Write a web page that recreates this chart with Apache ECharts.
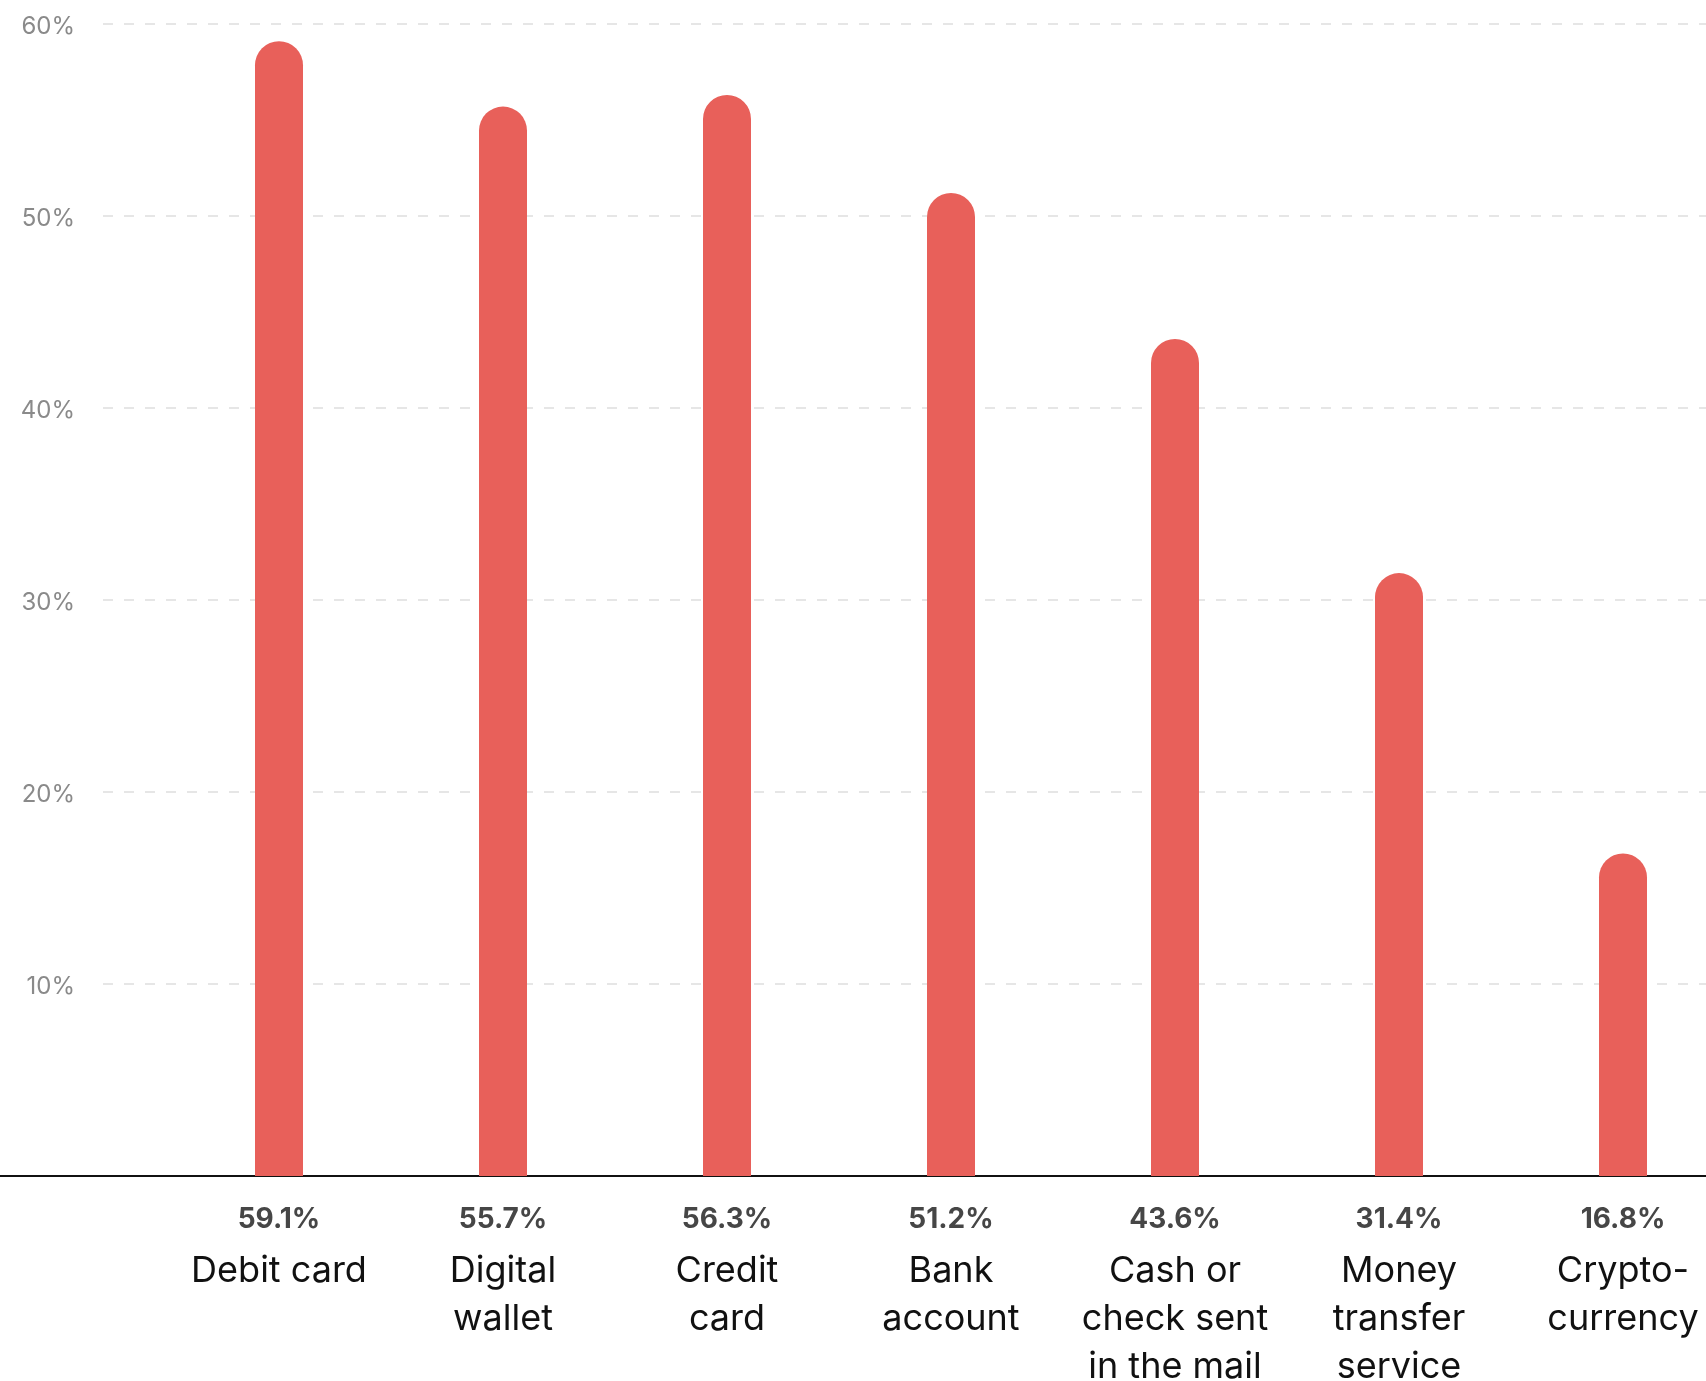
<!DOCTYPE html>
<html>
<head>
<meta charset="utf-8">
<script src="https://cdn.jsdelivr.net/npm/echarts@6/dist/echarts.min.js"></script>
<style>
  html, body { margin: 0; padding: 0; background: #fff; }
  #chart1 { width: 1706px; height: 1381px; }
</style>
</head>
<body>
<div id="chart1"></div>
<script>
/* payment methods bar chart */

var categories = ['Debit card', 'Digital\nwallet', 'Credit\ncard', 'Bank\naccount',
    'Cash or\ncheck sent\nin the mail', 'Money\ntransfer\nservice', 'Crypto-\ncurrency'];
var values = [59.1, 55.7, 56.3, 51.2, 43.6, 31.4, 16.8];
var yTicks = [0, 10, 20, 30, 40, 50, 60];

var chart = echarts.init(document.getElementById('chart1'));

var FONT = 'Inter, Roboto, sans-serif';
var TOP = 24, HEIGHT = 1152;

var option = {
    animation: false,
    grid: [
        // bars
        { left: 167, width: 1568, top: TOP, height: HEIGHT, outerBoundsMode: 'none', containLabel: false },
        // gridlines + y labels
        { left: 103, right: 0, top: TOP, height: HEIGHT, outerBoundsMode: 'none', containLabel: false },
        // baseline across the whole width
        { left: 0, right: 0, top: TOP, height: HEIGHT, outerBoundsMode: 'none', containLabel: false }
    ],
    xAxis: [
        {
            gridIndex: 0,
            type: 'category',
            data: categories,
            axisLine: { show: false },
            axisTick: { show: false },
            axisLabel: {
                interval: 0,
                margin: 17,
                formatter: function (val, idx) {
                    var lines = val.split('\n').map(function (s) { return '{c|' + s + '}'; });
                    return '{v|' + values[idx].toFixed(1) + '%}\n' + lines.join('\n');
                },
                rich: {
                    v: { fontFamily: FONT, fontSize: 28, fontWeight: 'bold', color: '#464646', lineHeight: 54, align: 'center' },
                    c: { fontFamily: FONT, fontSize: 36, color: '#111', lineHeight: 48, align: 'center' }
                }
            }
        },
        { gridIndex: 1, type: 'value', show: false },
        {
            gridIndex: 2,
            type: 'value',
            axisLine: { show: true, lineStyle: { color: '#111', width: 2 } },
            axisTick: { show: false },
            axisLabel: { show: false },
            splitLine: { show: false }
        }
    ],
    yAxis: [
        { gridIndex: 0, type: 'value', min: 0, max: 60, show: false },
        {
            gridIndex: 1,
            type: 'value',
            min: yTicks[0],
            max: yTicks[yTicks.length - 1],
            interval: 10,
            axisLine: { show: false },
            axisTick: { show: false },
            axisLabel: {
                margin: 28,
                formatter: function (v) { return v === 0 ? '' : '{t|' + v + '%}'; },
                rich: {
                    t: { fontFamily: FONT, fontSize: 24, color: '#8a8a8a', padding: [6, 0, 0, 0] }
                }
            },
            splitLine: {
                show: true,
                lineStyle: { color: '#e6e6e6', width: 2, type: [10, 11] }
            }
        },
        { gridIndex: 2, type: 'value', min: 0, max: 60, show: false }
    ],
    series: [
        {
            type: 'bar',
            xAxisIndex: 0,
            yAxisIndex: 0,
            data: values,
            barWidth: 48,
            itemStyle: { color: '#e8605a', borderRadius: [24, 24, 0, 0] }
        }
    ]
};

chart.setOption(option);
</script>
</body>
</html>
